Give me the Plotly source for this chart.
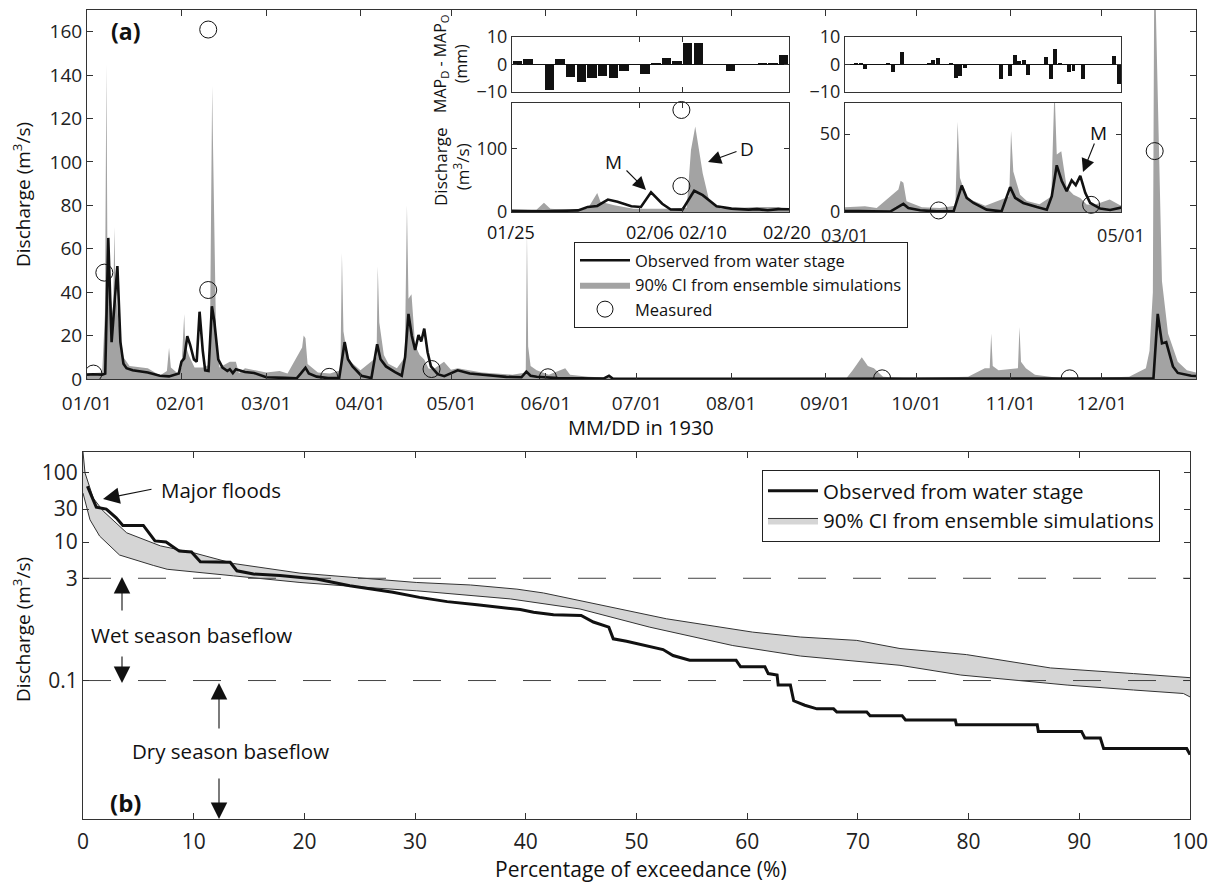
import plotly.graph_objects as go

W, H = 1217, 884
FONT = "Open Sans"

# ---- panel (a): daily hydrograph, 1930 (day of year, Jan 1 = 0) ----
month_days = [0, 31, 59, 90, 120, 151, 181, 212, 243, 273, 304, 334]
month_labels = ["01/01", "02/01", "03/01", "04/01", "05/01", "06/01",
                "07/01", "08/01", "09/01", "10/01", "11/01", "12/01"]

obs_day = [0, 2, 5, 6, 7, 8.1, 10, 11, 12, 13, 15, 20, 24, 27, 30.2, 31.1, 32.0,
           33.0, 33.9, 35.2, 36.1, 37.05, 38.1, 38.9, 40.0, 41.1, 41.9, 43.2, 44.6,
           46.2, 47, 48, 49, 50, 52, 55, 59, 65, 69, 70.4, 71.9, 73, 75.6, 79.3,
           83, 84.8, 85.9, 87.4, 90.3, 93.6, 95.5, 96.6, 98.4, 101.4, 103.6, 104.7,
           105.8, 106.9, 108, 109.1, 110, 111, 112.1, 113.2, 115.4, 117.6, 120,
           122, 126, 130, 138, 143, 144.6, 146, 148, 155, 160, 170, 171.8, 173,
           190, 250, 351.0, 352.4, 353.8, 355.2, 357.4, 359, 363.4, 365]
obs_q = [2.0, 2.2, 2.0, 2.5, 65, 17, 52, 17, 7, 5, 4, 3, 1.5, 1.2, 2.5, 8, 9.5,
         19.7, 16, 9, 8, 31, 13, 4, 3.7, 33.5, 26.6, 9, 5.3,
         3.7, 4.5, 2.7, 4.5, 4, 3.2, 2.8, 0.8, 0.5, 0.3, 2.6, 5.2, 2.6, 1.1, 0.4,
         0.4, 17, 9.1, 5.8, 1.5, 0.4, 16, 9.1, 5.8, 3.2, 1.5, 10.2,
         30, 19.9, 13.4, 20.3, 17.3, 23.2, 12.3, 5.8, 2.2, 1.3, 2.6,
         4, 2.5, 2, 1, 0.8, 3.4, 1.5, 1, 0.4, 0.3, 0.2, 1.5, 0.2,
         0.1, 0.05, 0.3, 30, 16.4, 17, 5.8, 2.8, 1.5, 1.4]

ci_day = [0, 5, 5.9, 6.4, 6.7, 7.5, 8.6, 9.0, 9.4, 10.5, 12, 14, 20, 24, 26.3, 27.0,
          27.6, 29.8, 31.1, 32.0, 32.3, 33.6, 35.4, 38.6, 40.4, 40.8, 41.2, 41.4,
          41.9, 42.5, 43.6, 47, 49, 50, 52, 59, 63.4, 66, 70.8, 71.3, 71.9, 72.6,
          76, 80, 83.4, 83.9, 84.4, 85.9, 90, 95.3, 95.7, 96.2, 97.7, 99.2, 102, 104.6,
          105.3, 105.8, 106.8, 108, 109.5, 111, 112.4, 114, 117.5, 119.8, 122,
          125.7, 130, 140, 144.4, 144.8, 145.2, 146, 148, 152, 157.4, 159, 165, 175,
          200, 250, 252, 255, 257, 259, 262, 270, 290, 295.5, 297.1, 297.6, 298.1,
          300, 306.4, 306.9, 307.4, 309, 312, 320, 330, 343, 346, 348.5, 349.7,
          350.8, 351.3, 352.5, 353.8, 355.8, 359, 362, 365]
ci_upper = [2.5, 3, 30, 145, 60, 40, 30, 70, 40, 25, 10, 6, 5, 1.6, 3.7, 14.4,
            5.3, 2.7, 5.3, 30, 16, 10.6, 5.3, 5.3, 6.9, 98, 135, 114,
            61, 18.6, 5.3, 8, 8, 2.7, 5, 3, 3.7, 2.5, 14.5, 20, 18.8, 6.9,
            3, 2.5, 4, 58, 22, 9, 4, 10, 52, 26, 11, 7, 5, 10,
            80, 37, 39, 15.6, 11, 9, 4.8, 4.5, 8, 4.3, 5,
            4, 3, 2, 3, 68, 15, 6, 4, 2, 5, 2, 1, 0.5,
            0.3, 0.5, 4, 10, 6, 5, 1, 0.3, 1, 5, 5, 21, 6,
            4, 5, 24, 8, 5, 2, 0.5, 0.5, 1, 3, 5, 13,
            40, 200, 120, 45, 21, 8, 4, 3]

meas_day = [2.1, 5.7, 39.9, 39.9, 79.7, 113.4, 151.7, 261.7, 323.4, 351.4]
meas_q = [2.5, 49, 161, 41, 1.0, 4.6, 0.8, 0.3, 0.3, 105]

# MAP_D - MAP_O (mm), daily bars for the two inset windows
bar1_day = [24.5 + i for i in range(26)]
bar1_mm = [1.25, 1.9, 0, -9.4, 1.9, -4.4, -6.25, -5, -4, -4.75, -2.25, 0, -3.4,
           0.2, 2.25, 1.25, 7.75, 7.9, 0, 0.1, -2.5, 0, 0, 0.6, 0.5, 3.4]
bar2_day = [59.5 + i for i in range(61)]
bar2_mm = [0, 0, 0.3, 0.3, -1.6, 0, 0, 0, 0, 0.3, -2.8, 0, 4.5, 0, 0, 0, 0, 0,
           0.2, 1.7, 2.4, 0, 0, 0.6, -4.9, -4.0, -1.2, 0, 0, 0, 0, 0, 0, 0.1,
           -5.2, 0, -4.0, 3.3, 1.2, 1.5, -3.7, 0, 0, 0, 2.9, -5.2, 5.7, 0.6, 0,
           -2.6, -2.2, 0, -5.2, 0, 0, 0, 0, 0, 0, 3.0, -7.1]

inset1_ticks = [24, 36, 40, 50]
inset1_labels = ["01/25", "02/06", "02/10", "02/20"]

# ---- panel (b): flow duration curve ----
fdc_obs_pct = [0.4, 1.2, 2.1, 3.0, 3.6, 5.45, 6.5, 7.5, 8.7, 9.8, 10.6, 13.3, 13.9,
               15.4, 17.8, 21.1, 24.1, 28.0, 30.4, 32.9, 35.6, 37.4, 39.5, 40.7,
               42.5, 45.0, 46.1, 47.5, 47.9, 49.1, 50.9, 52.4, 53.3, 54.8, 59.0,
               59.4, 61.6, 61.9, 62.7, 62.8, 63.9, 64.2, 65.2, 66.3, 67.8, 68.1,
               70.8, 71.1, 74.0, 74.3, 78.8, 78.9, 86.2, 86.3, 90.2, 90.5, 91.9,
               92.2, 99.7, 100]
fdc_obs_q = [64, 32, 30, 22.4, 17.4, 17.4, 10.4, 10.0, 7.4, 7.2, 5.2, 5.1, 3.85,
             3.45, 3.3, 2.92, 2.34, 1.88, 1.59, 1.38, 1.24, 1.14, 1.06, 0.97,
             0.89, 0.87, 0.70, 0.59, 0.40, 0.37, 0.32, 0.28, 0.23, 0.196, 0.196,
             0.158, 0.158, 0.126, 0.12, 0.086, 0.086, 0.051, 0.044, 0.039, 0.039,
             0.035, 0.035, 0.031, 0.031, 0.027, 0.027, 0.023, 0.023, 0.0184,
             0.0184, 0.0148, 0.0148, 0.0104, 0.0104, 0.0085]
fdc_up_pct = [0, 0.18, 0.93, 1.83, 3.95, 7.0, 10.0, 13.6, 19.6, 25.6, 30.1, 35,
              39.2, 41.6, 46.4, 52.7, 60.5, 64.8, 69.9, 73.8, 79.8, 87.4, 94.9, 100]
fdc_up_q = [200, 100, 43, 28, 13.6, 8.8, 7.0, 4.9, 3.56, 2.98, 2.61, 2.4,
            2.09, 1.84, 1.28, 0.78, 0.50, 0.425, 0.38, 0.29, 0.237, 0.152, 0.126, 0.11]
fdc_lo_pct = [0, 0.63, 1.5, 3.3, 6.35, 7.6, 13.6, 19.6, 25.6, 30.1, 38.6, 44.9,
              51.2, 58.7, 64.8, 73.8, 79.3, 88.9, 94.9, 99.4, 100]
fdc_lo_q = [51, 21, 12.2, 6.5, 4.6, 4.05, 3.25, 2.61, 2.21, 1.98, 1.51, 1.08,
            0.59, 0.32, 0.226, 0.166, 0.12, 0.086, 0.073, 0.065, 0.058]
baseflow_levels = [3, 0.1]
fdc_yticks = [0.1, 3, 10, 30, 100]


def px(x):
    return x / W


def py(y):
    return 1 - y / H


def ax_style(size=19, **kw):
    d = dict(showline=True, linecolor="#333", linewidth=1, mirror="ticks",
             ticks="inside", ticklen=6, tickcolor="#333", showgrid=False,
             zeroline=False, automargin=False,
             tickfont=dict(family=FONT, size=size, color="#222"))
    d.update(kw)
    return d


GRAY = "#a3a3a3"
fig = go.Figure()

# main hydrograph
fig.add_trace(go.Scatter(x=ci_day, y=ci_upper, mode="lines", fill="tozeroy",
                         fillcolor=GRAY, line=dict(width=0, color=GRAY),
                         name="90% CI from ensemble simulations", legendrank=2,
                         xaxis="x", yaxis="y"))
fig.add_trace(go.Scatter(x=obs_day, y=obs_q, mode="lines",
                         line=dict(color="#111", width=2.6),
                         name="Observed from water stage", legendrank=1,
                         xaxis="x", yaxis="y"))
fig.add_trace(go.Scatter(x=meas_day, y=meas_q, mode="markers",
                         marker=dict(symbol="circle-open", size=17,
                                     color="#111", line=dict(width=1)),
                         name="Measured", legendrank=3, xaxis="x", yaxis="y"))

# insets: same series on zoomed axes
for xa, ya, bx, by, days, mm in [("x3", "y3", "x4", "y4", bar1_day, bar1_mm),
                                 ("x5", "y5", "x6", "y6", bar2_day, bar2_mm)]:
    fig.add_trace(go.Bar(x=days, y=mm, width=0.88, marker=dict(color="#111", line=dict(width=0)),
                         showlegend=False, xaxis=xa, yaxis=ya))
    fig.add_trace(go.Scatter(x=ci_day, y=ci_upper, mode="lines", fill="tozeroy",
                             fillcolor=GRAY, line=dict(width=0, color=GRAY),
                             showlegend=False, xaxis=bx, yaxis=by))
    fig.add_trace(go.Scatter(x=obs_day, y=obs_q, mode="lines",
                             line=dict(color="#111", width=2.6),
                             showlegend=False, xaxis=bx, yaxis=by))
    fig.add_trace(go.Scatter(x=meas_day, y=meas_q, mode="markers",
                             marker=dict(symbol="circle-open", size=17,
                                         color="#111", line=dict(width=1)),
                             showlegend=False, xaxis=bx, yaxis=by, cliponaxis=False))

# flow duration curve
fig.add_trace(go.Scatter(x=fdc_lo_pct, y=fdc_lo_q, mode="lines",
                         line=dict(color="#333", width=1), showlegend=False,
                         xaxis="x2", yaxis="y2"))
fig.add_trace(go.Scatter(x=fdc_up_pct, y=fdc_up_q, mode="lines", fill="tonexty",
                         fillcolor="#d5d5d5", line=dict(color="#333", width=1),
                         name="90% CI from ensemble simulations", legend="legend2",
                         legendrank=2, xaxis="x2", yaxis="y2"))
for lvl in baseflow_levels:
    fig.add_trace(go.Scatter(x=[0, 100], y=[lvl, lvl], mode="lines",
                             line=dict(color="#444", width=1, dash="28px,27px"),
                             showlegend=False, hoverinfo="skip",
                             xaxis="x2", yaxis="y2"))
fig.add_trace(go.Scatter(x=fdc_obs_pct, y=fdc_obs_q, mode="lines",
                         line=dict(color="#111", width=3),
                         name="Observed from water stage", legend="legend2",
                         legendrank=1, xaxis="x2", yaxis="y2"))

ann = []


def text(x, y, s, size=16, angle=0, bold=False):
    ann.append(dict(x=px(x), y=py(y), xref="paper", yref="paper",
                    text="<b>" + s + "</b>" if bold else s,
                    showarrow=False, textangle=angle, xanchor="center",
                    yanchor="middle",
                    font=dict(family=FONT, size=size, color="#111")))


def arrow(x_tip, y_tip, x_tail, y_tail, size=2.4):
    ann.append(dict(x=px(x_tip), y=py(y_tip), xref="paper", yref="paper",
                    ax=x_tail - x_tip, ay=y_tail - y_tip, axref="pixel", ayref="pixel",
                    text="", showarrow=True, arrowhead=2, arrowsize=size,
                    arrowwidth=1.1, arrowcolor="#111", standoff=0, startstandoff=0))


text(125, 31, "(a)", size=23, bold=True)
text(125, 802, "(b)", size=24, bold=True)
text(641, 427, "MM/DD in 1930", size=20)
text(22, 195, "Discharge (m<sup>3</sup>/s)", size=19, angle=-90)
text(641, 869, "Percentage of exceedance (%)", size=21)
text(22, 630, "Discharge (m<sup>3</sup>/s)", size=19, angle=-90)
text(451, 64, "MAP<sub>D</sub> - MAP<sub>O</sub><br>(mm)", size=16, angle=-90)
text(451, 167, "Discharge<br>(m<sup>3</sup>/s)", size=17, angle=-90)
for lx, lab in zip([511, 650, 703, 787], inset1_labels):
    text(lx, 232, lab, size=18)
text(613, 162, "M", size=19)
arrow(646, 190, 625, 169)
text(747, 149, "D", size=19)
arrow(708, 162, 738, 151)
text(1098, 133, "M", size=19)
arrow(1083, 172, 1095, 142)
text(221, 490, "Major floods", size=20.5)
arrow(103, 499, 153, 489, size=3)
text(191, 635, "Wet season baseflow", size=20.5)
arrow(122, 577, 122, 612, size=3)
arrow(122, 683, 122, 655, size=3)
text(230, 751, "Dry season baseflow", size=20.5)
arrow(219, 683, 219, 730, size=3)
arrow(219, 819, 219, 777, size=3)

fig.update_layout(
    width=W, height=H, margin=dict(l=0, r=0, t=0, b=0),
    paper_bgcolor="white", plot_bgcolor="white",
    font=dict(family=FONT, size=16, color="#111"),
    bargap=0,
    xaxis=ax_style(domain=[px(87), px(1196)], range=[0, 365], anchor="y",
                   tickvals=month_days, ticktext=month_labels, ticklabelstandoff=7),
    yaxis=ax_style(domain=[py(379), py(10)], range=[0, 170], anchor="x",
                   tickvals=list(range(0, 161, 20))),
    xaxis2=ax_style(size=21, domain=[px(83), px(1190)], range=[0, 100], anchor="y2",
                    dtick=10, ticklabelstandoff=4),
    yaxis2=ax_style(size=21, domain=[py(819), py(452)], type="log",
                    range=[-3, 2.301], anchor="x2", tickvals=fdc_yticks,
                    ticktext=[str(v) for v in fdc_yticks]),
    xaxis3=ax_style(domain=[px(512), px(789)], range=[24, 50], anchor="y3",
                    tickvals=inset1_ticks, showticklabels=False, ticklen=5),
    yaxis3=ax_style(size=18, domain=[py(92), py(37)], range=[-10, 10], anchor="x3",
                    tickvals=[-10, 0, 10], ticktext=["\u221210", "0", "10"],
                    zeroline=True, zerolinecolor="#111", zerolinewidth=1, ticklen=5),
    xaxis4=ax_style(domain=[px(512), px(789)], range=[24, 50], anchor="y4",
                    tickvals=inset1_ticks, showticklabels=False, ticklen=5),
    yaxis4=ax_style(size=18, domain=[py(212), py(103)], range=[0, 172], anchor="x4",
                    tickvals=[0, 100], ticklen=5),
    xaxis5=ax_style(domain=[px(845), px(1121)], range=[59, 120], anchor="y5",
                    tickvals=[59, 120], showticklabels=False, ticklen=5),
    yaxis5=ax_style(size=18, domain=[py(92), py(37)], range=[-10, 10], anchor="x5",
                    tickvals=[-10, 0, 10], ticktext=["\u221210", "0", "10"],
                    zeroline=True, zerolinecolor="#111", zerolinewidth=1, ticklen=5),
    xaxis6=ax_style(size=18, domain=[px(845), px(1121)], range=[59, 120], anchor="y6",
                    tickvals=[59, 120], ticktext=["03/01", "05/01"], ticklen=5,
                    ticklabelstandoff=7),
    yaxis6=ax_style(size=18, domain=[py(212), py(103)], range=[0, 70], anchor="x6",
                    tickvals=[0, 50], ticklen=5),
    legend=dict(x=px(574), y=py(242), xanchor="left", yanchor="top",
                bordercolor="#222", borderwidth=1, bgcolor="white",
                font=dict(family=FONT, size=16.5, color="#111"), itemwidth=50,
                tracegroupgap=0, traceorder="normal"),
    legend2=dict(x=px(762), y=py(470), xanchor="left", yanchor="top",
                 bordercolor="#222", borderwidth=1, bgcolor="white",
                 font=dict(family=FONT, size=20.5, color="#111"), itemwidth=50,
                 tracegroupgap=0, traceorder="normal"),
    annotations=ann,
)

fig.write_html("out.html", config={"displayModeBar": False},
               post_script="document.body.style.margin='0';")
